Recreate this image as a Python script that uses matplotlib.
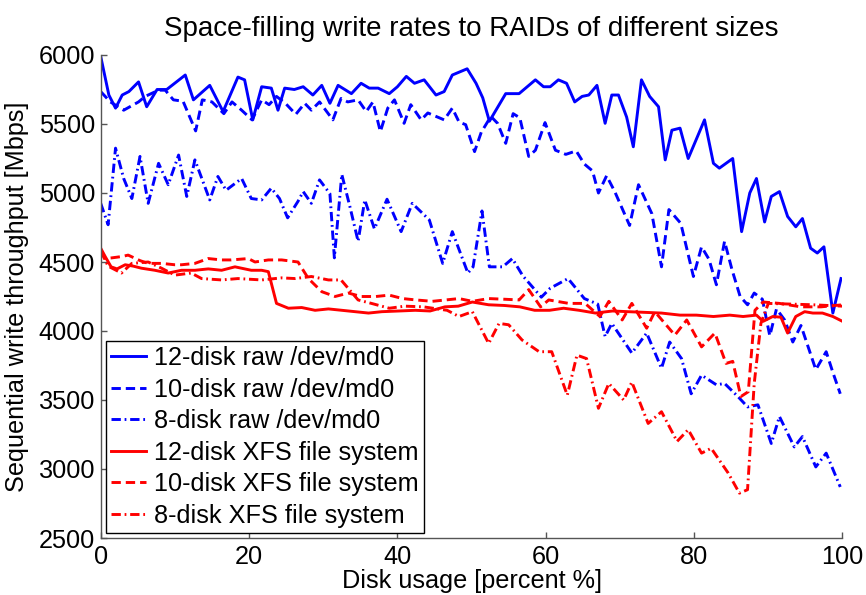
import matplotlib
matplotlib.use("Agg")
import matplotlib.pyplot as plt

plt.rcParams['font.family'] = ['Liberation Sans', 'DejaVu Sans']

title = "Space-filling write rates to RAIDs of different sizes"
xlabel = "Disk usage [percent %]"
ylabel = "Sequential write throughput [Mbps]"
xticks = [0, 20, 40, 60, 80, 100]
yticks = [2500, 3000, 3500, 4000, 4500, 5000, 5500, 6000]

labels = ["12-disk raw /dev/md0", "10-disk raw /dev/md0", "8-disk raw /dev/md0",
          "12-disk XFS file system", "10-disk XFS file system", "8-disk XFS file system"]

# 12-disk raw /dev/md0
x12r = [0, 1.1, 2, 2.9, 3.8, 5.1, 6.2, 7.6, 8.9, 11.4, 12.5, 14.7, 16.5, 18.5, 19.4, 20.5,
        21.7, 23, 23.9, 24.8, 26.1, 27.3, 28.6, 29.8, 30.9, 32, 33.8, 35.1, 36.2, 37.4,
        38.9, 40, 41.2, 42.3, 43.6, 45.2, 46.3, 47.4, 49.4, 50.6, 51.5, 52.4, 54.6, 56.4,
        58.6, 59.7, 60.6, 61.7, 62.8, 63.9, 64.9, 65.8, 66.9, 68, 68.9, 69.8, 70.9, 71.8,
        72.9, 74, 75.2, 76.1, 77, 78.1, 79.2, 81.4, 82.6, 83.4, 85.2, 86.4, 87.5, 88.4,
        89.5, 90.4, 91.5, 92.6, 93.7, 94.6, 95.7, 96.6, 97.5, 98.7, 99.8]
y12r = [5990, 5710, 5615, 5710, 5735, 5805, 5625, 5750, 5750, 5855, 5675, 5780, 5590, 5840,
        5820, 5530, 5770, 5760, 5600, 5760, 5750, 5770, 5710, 5780, 5650, 5780, 5720, 5795,
        5760, 5760, 5720, 5770, 5845, 5795, 5820, 5710, 5735, 5855, 5900, 5795, 5690, 5520,
        5720, 5720, 5820, 5770, 5770, 5820, 5795, 5660, 5700, 5710, 5780, 5505, 5710, 5710,
        5550, 5335, 5820, 5700, 5625, 5240, 5455, 5470, 5250, 5530, 5215, 5180, 5250, 4720,
        5000, 5105, 4790, 4975, 5010, 4830, 4755, 4815, 4600, 4565, 4610, 4130, 4380]

# 10-disk raw /dev/md0
x10r = [0, 1.3, 3.1, 5.1, 6, 7.8, 8.7, 9.8, 11.1, 12.8, 13.7, 15, 16.6, 17.7, 19, 20.4,
        21.7, 22.7, 23.7, 24.9, 26.3, 27.5, 28.4, 29.5, 31.3, 32.4, 33.3, 34.7, 35.8, 36.7,
        37.7, 38.7, 39.6, 40.9, 41.8, 43.2, 44.1, 45.2, 46.3, 47.4, 48.3, 49.2, 50.4, 51.3,
        52.6, 53.5, 54.6, 55.6, 56.5, 57.7, 58.6, 59.9, 61.3, 62.7, 64.1, 65.2, 66.3, 67.1,
        68.2, 69.3, 71.3, 72.5, 74.3, 75.6, 76.6, 78.2, 79.9, 81, 82, 83, 84.1, 85.1, 86.2,
        87.2, 88.1, 89.2, 90.2, 91.1, 92.2, 93.3, 94.4, 95.4, 96.4, 97.8, 98.7, 99.7]
y10r = [5735, 5660, 5600, 5660, 5700, 5745, 5745, 5675, 5665, 5450, 5675, 5660, 5575, 5660,
        5600, 5530, 5675, 5640, 5700, 5650, 5570, 5650, 5600, 5660, 5530, 5685, 5660, 5675,
        5590, 5660, 5445, 5615, 5675, 5505, 5640, 5530, 5580, 5555, 5530, 5615, 5515, 5495,
        5300, 5440, 5555, 5505, 5360, 5575, 5545, 5265, 5310, 5510, 5310, 5280, 5305, 5210,
        5160, 5000, 5125, 5010, 4765, 5060, 4850, 4465, 4880, 4780, 4395, 4610, 4520, 4335,
        4650, 4445, 4250, 4190, 4275, 4230, 3965, 4160, 4080, 3920, 4040, 3880, 3720, 3850,
        3700, 3545]

# 8-disk raw /dev/md0
x8r = [0, 1, 2, 3.1, 4.2, 5.3, 6.4, 7.8, 9.1, 10.5, 11.6, 12.7, 14.7, 15.8, 16.9, 19,
       20.3, 21.7, 23, 24.1, 25.2, 26.6, 27.3, 28.4, 29.5, 30.9, 31.5, 32.5, 33.6, 34.7,
       35.6, 36.9, 38.6, 40.5, 42, 44.3, 46.1, 47.4, 49.5, 50.2, 51.4, 52.4, 54.2, 55.5,
       56.9, 59.4, 60.6, 63, 65.2, 67, 68, 68.9, 71.6, 73.6, 75.6, 76.7, 78.3, 79.6, 81,
       83, 84.1, 85.9, 87.2, 88.6, 90.4, 91.5, 93.5, 94.6, 96.4, 97.8, 99.7]
y8r = [4925, 4770, 5325, 5105, 4960, 5265, 4925, 5215, 5060, 5275, 4975, 5240, 4950, 5120,
       5020, 5105, 4960, 4950, 5035, 4960, 4820, 4940, 5010, 4925, 5095, 4995, 4530, 5135,
       4900, 4650, 4950, 4740, 4955, 4720, 4925, 4805, 4490, 4720, 4420, 4465, 4870, 4465,
       4465, 4525, 4400, 4245, 4310, 4380, 4235, 4195, 3960, 4055, 3840, 3985, 3730, 3920,
       3800, 3545, 3680, 3610, 3620, 3525, 3450, 3465, 3185, 3380, 3160, 3235, 3015, 3115,
       2870]

# 12-disk XFS file system
x12x = [0, 0.6, 1.4, 2.2, 3.3, 4.4, 5.5, 7.3, 9.1, 10.9, 12.7, 14.5, 16.3, 18.1, 20.3,
        21.7, 22.6, 23.7, 25.3, 27.1, 28.9, 30.7, 32.5, 34.3, 36.1, 37.9, 40.2, 42.4, 44.4,
        46.4, 48.2, 50.1, 52.3, 54.4, 56.5, 58.5, 60.5, 62.4, 64.5, 66.7, 69, 71.1, 73.4,
        75.6, 78.1, 80.3, 82.6, 84.8, 86.6, 88.4, 89.3, 90.6, 91.7, 92.6, 93.7, 94.9, 96,
        97.3, 98.7, 100]
y12x = [4600, 4540, 4465, 4450, 4480, 4470, 4455, 4440, 4420, 4440, 4440, 4450, 4440, 4465,
        4440, 4440, 4430, 4200, 4165, 4170, 4150, 4160, 4150, 4140, 4130, 4140, 4145, 4150,
        4145, 4175, 4180, 4210, 4190, 4185, 4175, 4150, 4150, 4165, 4150, 4130, 4145, 4140,
        4135, 4130, 4115, 4115, 4105, 4115, 4105, 4115, 4070, 4105, 4100, 3985, 4105, 4140,
        4130, 4130, 4105, 4070]

# 10-disk XFS file system
x10x = [0, 0.6, 1.5, 2.9, 3.7, 5.3, 6.4, 8.2, 10, 10.9, 12.7, 14.5, 16.3, 17.6, 19.9,
        20.8, 22.6, 24.4, 26.6, 28, 29.8, 31.6, 33.4, 35.1, 37.1, 38.9, 40.7, 42.5, 44.7,
        46.5, 48.3, 50.1, 52.3, 54.5, 56.4, 57.7, 59.3, 60.4, 63.1, 65.3, 67.3, 68.5, 70.3,
        71.6, 73.6, 74.7, 77.4, 79, 81, 82.8, 84.3, 85.2, 86.3, 87.3, 88.2, 89.3, 91.5,
        94.4, 97.1, 100]
y10x = [4580, 4525, 4530, 4540, 4550, 4510, 4490, 4490, 4480, 4480, 4490, 4525, 4515, 4515,
        4525, 4500, 4515, 4515, 4500, 4380, 4285, 4250, 4275, 4250, 4250, 4260, 4235, 4225,
        4215, 4225, 4235, 4215, 4235, 4230, 4225, 4300, 4175, 4225, 4200, 4200, 4105, 4215,
        4080, 4200, 4020, 4140, 3970, 4080, 3885, 3985, 3765, 3780, 3525, 3560, 4150, 4210,
        4200, 4175, 4175, 4190]

# 8-disk XFS file system
x8x = [0, 1, 2.8, 4.2, 6.4, 8.2, 10, 12.2, 13.6, 16.3, 18.5, 21.7, 24.4, 26.2, 28.4,
       30.7, 32.4, 34.7, 36.5, 38.9, 41, 43.5, 46.7, 48.3, 50.1, 52.3, 53.7, 55, 56.8,
       59.1, 60.8, 62.9, 64.2, 65.5, 67.1, 68.5, 70.5, 71.6, 73.8, 75.6, 77.7, 79.2, 81,
       82.3, 84.6, 86.1, 87.2, 88.1, 89, 90, 93, 96, 100]
y8x = [4580, 4470, 4420, 4490, 4500, 4455, 4405, 4420, 4380, 4370, 4380, 4370, 4385, 4380,
       4395, 4370, 4370, 4225, 4200, 4165, 4180, 4175, 4150, 4105, 4140, 3910, 4055, 4045,
       3935, 3850, 3850, 3535, 3825, 3800, 3440, 3620, 3500, 3630, 3330, 3415, 3200, 3285,
       3115, 3150, 2970, 2825, 2850, 3620, 4055, 4200, 4195, 4190, 4180]

series = [(x12r, y12r), (x10r, y10r), (x8r, y8r), (x12x, y12x), (x10x, y10x), (x8x, y8x)]
colors = ['#0000ff', '#0000ff', '#0000ff', '#ff0000', '#ff0000', '#ff0000']
styles = ['-', (0, (3.2, 1.7)), (0, (3.2, 1.3, 0.6, 1.3)),
          '-', (0, (3.2, 1.7)), (0, (3.2, 1.3, 0.6, 1.3))]

fig = plt.figure(figsize=(8.66, 5.95), dpi=100)
ax = fig.add_axes([100.7 / 866, 57 / 595, 741.8 / 866, 483 / 595])

for (xs, ys), c, ls, lab in zip(series, colors, styles, labels):
    ax.plot(xs, ys, color=c, linestyle=ls, linewidth=2.1, label=lab)

ax.set_xlim(0, 100)
ax.set_ylim(2500, 6000)
ax.set_xticks(xticks)
ax.set_yticks(yticks)
fs = 18.2
ax.tick_params(direction='in', length=4, width=1, colors='#555555', labelcolor='black',
               labelsize=fs)
ax.tick_params(axis='x', pad=5)
ax.tick_params(axis='y', pad=4)
for s in ['top', 'right']:
    ax.spines[s].set_visible(False)
for s in ['left', 'bottom']:
    ax.spines[s].set_color('#555555')
    ax.spines[s].set_linewidth(1.0)

ax.set_xlabel(xlabel, fontsize=fs, labelpad=0)
ax.set_ylabel(ylabel, fontsize=fs, labelpad=7)
ax.set_title(title, fontsize=20, pad=13.7)

leg = ax.legend(loc='lower left', bbox_to_anchor=(0.0071, 0.0104), borderaxespad=0,
                fontsize=fs, frameon=True, fancybox=False, framealpha=1,
                edgecolor='black', borderpad=0.2, labelspacing=0.3,
                handlelength=1.4, handletextpad=0.3)
leg.get_frame().set_linewidth(1.0)

fig.savefig("out.png", dpi=100, facecolor='white')
